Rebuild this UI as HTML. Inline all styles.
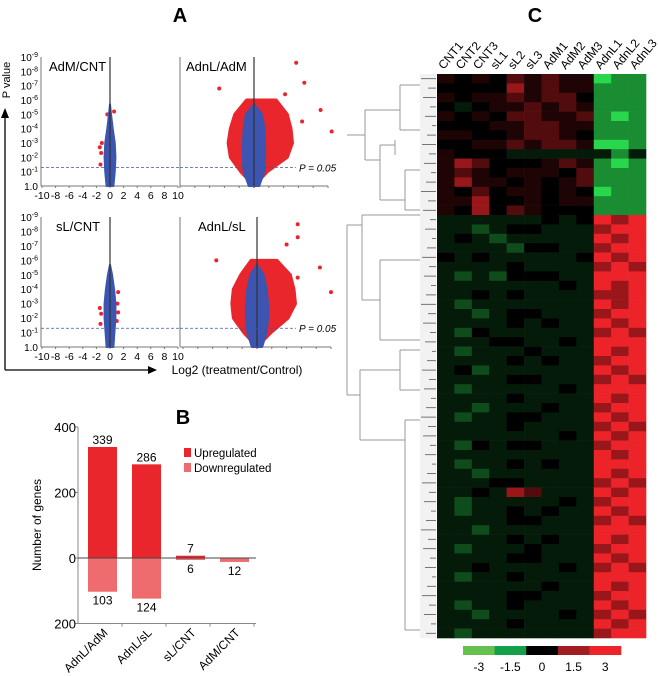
<!DOCTYPE html>
<html><head><meta charset="utf-8"><style>
html,body{margin:0;padding:0;background:#fff;}
svg{display:block;font-family:"Liberation Sans",sans-serif;}
</style></head><body>
<svg id="fig" width="658" height="676" viewBox="0 0 658 676">
<g id="A"></g>
<g id="B"></g>
<g id="C"></g>
</svg>
<script>
// ---------- Panel A data (volcano clouds) ----------
const volLevels=[0,1,2,3,4,5,6,7];
const tlBlueHalf=[0.5,0.7,0.8,0.7,0.4,0.15,0,0];
const tlRedPts=[[-1.3,2.3],[-1.5,2.7],[-1.2,3.0],[-1.4,1.5],[0.6,5.2],[-0.4,5.0]];
const trBlueHalf=[0.7,1.4,1.5,1.5,1.4,1.1,0,0];
const trRedLeft=[0,-1.8,-3.2,-3.5,-3.2,-2.6,-1.0,0];
const trRedRight=[0,1.8,4.5,5.2,5.0,4.5,3.0,0];
const trRedPts=[[5.7,8.6],[6.8,7.2],[-4.7,6.8],[9.0,5.3],[10.5,3.8],[6.5,4.5],[4.2,6.4]];
const blBlueHalf=[0.5,0.65,0.8,0.8,0.6,0.3,0,0];
const blRedPts=[[-1.5,2.7],[-1.3,2.3],[1.2,2.4],[1.1,3.0],[1.2,3.8],[-1.4,1.6],[1.0,1.8]];
const brBlueHalf=[0.7,1.3,1.5,1.5,1.3,0.9,0,0];
const brRedLeft=[0,-1.8,-3.2,-3.4,-3.2,-2.2,-0.8,0];
const brRedRight=[0,1.9,4.2,5.2,5.0,4.5,2.7,0];
const brRedPts=[[5.5,8.5],[5.5,7.6],[4.0,7.1],[-5.5,6.0],[8.5,5.5],[10.0,3.8],[5.5,4.8],[3.5,2.0]];
const yTickLabels=["1.0","10","10","10","10","10","10","10","10","10"];
const yTickExp=["","-1","-2","-3","-4","-5","-6","-7","-8","-9"];
const xTickLabels=[-10,-8,-6,-4,-2,0,2,4,6,8,10];
// ---------- Panel B data ----------
const barCats=["AdnL/AdM","AdnL/sL","sL/CNT","AdM/CNT"];
const upVals=[339,286,7,0];
const downVals=[103,124,6,12];
const upLabels=["339","286","7",""];
const downLabels=["103","124","6","12"];
const bTicks=[400,200,0,-200];
const bTickLabels=["400","200","0","200"];
// ---------- Panel C data ----------
const sampleNames=["CNT1","CNT2","CNT3","sL1","sL2","sL3","AdM1","AdM2","AdM3","AdnL1","AdnL2","AdnL3"];
const heatRows=[
"545465655011","444475655111","545565664111","434556565111","545466556101",
"444556655111","554456654111","445565665001","544433333313","576444565101",
"565455546111","575545456111","546455454011","557445455111","547465444111",
"333333434878","332344333788","343233333878","333324433788","434333334878",
"333343333787","323244433888","333333343878","334343333778","323333333878",
"332344333788","333343433878","324333333787","333443343888","323334333878",
"333343433788","342333333878","333344333787","323333343888","333343333878",
"332333433788","323344333878","333343333787","333333343878","324344333788",
"333333333878","323343433888","332333333878","333443333787","334376333878",
"323333343788","323343433878","333344333787","332333333888","333343433878",
"323334333788","333344333878","334333343787","323343333888","333333433878",
"333344333788","323343333878","332333343787","333343333878","323333333788"];
const cbarLabels=["-3","-1.5","0","1.5","3"];
const cbarColors=["#66c04e","#12a049","#000000","#a01d22","#ec2329"];

const NS="http://www.w3.org/2000/svg";
function mk(parent,tag,attrs,text){const e=document.createElementNS(NS,tag);for(const k in attrs)e.setAttribute(k,attrs[k]);if(text!==undefined)e.textContent=text;parent.appendChild(e);return e;}

// ===== Panel A =====
const A=document.getElementById('A');
let t=mk(A,'text',{x:180,y:22,'font-size':20,'font-weight':'bold','text-anchor':'middle'},'A');


function volPanel(cfg){
  const g=mk(A,'g',{});
  
  
  const sx=v=>cfg.x0+v*cfg.k, sy=v=>cfg.yb-v*(cfg.yb-cfg.yt)/9;
  let ax=mk(g,'line',{x1:cfg.ax,y1:cfg.yt,x2:cfg.ax,y2:cfg.yb,stroke:'#777','stroke-width':1});
  
  
  let bx=mk(g,'line',{x1:cfg.ax,y1:cfg.yb,x2:sx(10),y2:cfg.yb,stroke:'#777','stroke-width':1});
  
  
  if(cfg.yLabels){
    for(let i=0;i<10;i++){
      const tt=mk(g,'text',{x:cfg.ax-3,y:sy(i)+4,'font-size':10,'text-anchor':'end'});
      
      
      mk(tt,'tspan',{},yTickLabels[i]);
      if(yTickExp[i]){mk(tt,'tspan',{dy:-4,'font-size':7},yTickExp[i]);}
    }
    for(let i=0;i<xTickLabels.length;i++){
      const xt=mk(g,'text',{x:sx(xTickLabels[i]),y:cfg.yb+13,'font-size':10.5,'text-anchor':'middle'},String(xTickLabels[i]));
      
      
    }
  }
  for(let i=0;i<=10;i++){mk(g,'line',{x1:sx(-10+2*i),y1:cfg.yb,x2:sx(-10+2*i),y2:cfg.yb+2,stroke:'#777'});}
  if(cfg.redL){
    let pts=[];
    for(let i=0;i<volLevels.length;i++){if(cfg.redR[i]||i===0)pts.push(sx(cfg.redR[i])+','+sy(volLevels[i]));}
    for(let i=volLevels.length-1;i>=0;i--){if(cfg.redL[i]||i===0)pts.push(sx(cfg.redL[i])+','+sy(volLevels[i]));}
    const rp=mk(g,'polygon',{points:pts.join(' '),fill:'#e8262b',stroke:'#e8262b','stroke-width':3,'stroke-linejoin':'round'});
    
    
  }
  for(const p of cfg.redPts){
    const c=mk(g,'circle',{cx:sx(p[0]),cy:sy(p[1]),r:2,fill:'#e8262b'});
    
    
  }
  let pts=[];
  const n=cfg.blue.length;
  for(let i=0;i<n;i++){if(cfg.blue[i]>0||i===0)pts.push(sx(cfg.blue[i])+','+sy(volLevels[i]));}
  let top=0;for(let i=0;i<n;i++)if(cfg.blue[i]>0)top=i;
  pts.push(sx(0)+','+sy(top+0.7));
  for(let i=n-1;i>=0;i--){if(cfg.blue[i]>0||i===0)pts.push(sx(-cfg.blue[i])+','+sy(volLevels[i]));}
  const bp=mk(g,'polygon',{points:pts.join(' '),fill:'#3b55b0',stroke:'#3b55b0','stroke-width':2,'stroke-linejoin':'round'});
  
  
  mk(g,'line',{x1:sx(0),y1:cfg.yt,x2:sx(0),y2:cfg.yb,stroke:'#333','stroke-width':1.2});
  const dl=mk(g,'line',{x1:cfg.ax,y1:sy(1.3),x2:cfg.dashEnd,y2:sy(1.3),stroke:'#3b55b0','stroke-width':0.8,'stroke-dasharray':'3,2'});
  
  
  if(cfg.pLabel){
    const pl=mk(g,'text',{x:cfg.dashEnd+3,y:sy(1.3)+4,'font-size':10,'font-style':'italic'},'P = 0.05');
    
    
  }
  const tl=mk(g,'text',{x:cfg.titleX,y:cfg.yt+14,'font-size':13},cfg.title);
  
  
}
volPanel({name:'volcano-adm-cnt',x0:110,k:6.8,ax:41,yt:57,yb:186,blue:tlBlueHalf,redPts:tlRedPts,yLabels:true,dashEnd:180,title:'AdM/CNT',titleX:49});
volPanel({name:'volcano-adnl-adm',x0:254,k:7.4,ax:180,yt:57,yb:186,blue:trBlueHalf,redL:trRedLeft,redR:trRedRight,redPts:trRedPts,dashEnd:296,pLabel:true,title:'AdnL/AdM',titleX:186});
volPanel({name:'volcano-sl-cnt',x0:110,k:6.8,ax:41,yt:217,yb:347,blue:blBlueHalf,redPts:blRedPts,yLabels:true,dashEnd:180,title:'sL/CNT',titleX:56});
volPanel({name:'volcano-adnl-sl',x0:257,k:7.4,ax:180,yt:217,yb:347,blue:brBlueHalf,redL:brRedLeft,redR:brRedRight,redPts:brRedPts,dashEnd:296,pLabel:true,title:'AdnL/sL',titleX:198});
let ar=mk(A,'path',{d:'M5,370 L5,116 M5,370 L150,370',stroke:'#000','stroke-width':1.3,fill:'none'});


mk(A,'polygon',{points:'1,118 9,118 5,108',fill:'#000'});
mk(A,'polygon',{points:'148,366 148,374 157,370',fill:'#000'});
t=mk(A,'text',{x:10,y:80,'font-size':11,transform:'rotate(-90 10 80)','text-anchor':'middle'},'P value');


t=mk(A,'text',{x:237,y:374,'font-size':12,'text-anchor':'middle'},'Log2 (treatment/Control)');



// ===== Panel B =====
const B=document.getElementById('B');
const by=v=>558-v*0.3275;
const bx0=78, bw=44, barW=29;
t=mk(B,'text',{x:183,y:424,'font-size':20,'font-weight':'bold','text-anchor':'middle'},'B');


let yl=mk(B,'line',{x1:bx0,y1:by(400),x2:bx0,y2:by(-200),stroke:'#888'});


for(let i=0;i<bTicks.length;i++){
  mk(B,'line',{x1:bx0-3,y1:by(bTicks[i]),x2:bx0,y2:by(bTicks[i]),stroke:'#888'});
  const tt=mk(B,'text',{x:bx0-2,y:by(bTicks[i])+5,'font-size':13,'text-anchor':'end'},bTickLabels[i]);
  
  
}
t=mk(B,'text',{x:41,y:525,'font-size':12,transform:'rotate(-90 41 525)','text-anchor':'middle'},'Number of genes');


for(let i=0;i<barCats.length;i++){
  const cx=bx0+10+i*bw+barW/2;
  const xl=cx-barW/2;
  if(upVals[i]>0){
    const r=mk(B,'rect',{x:xl,y:by(upVals[i]),width:barW,height:by(0)-by(upVals[i]),fill:'#e8262b'});
    
    
  }
  const d=mk(B,'rect',{x:xl,y:by(0),width:barW,height:by(-downVals[i])-by(0),fill:'#ee6b6e'});
  
  
  if(upLabels[i]){
    const u=mk(B,'text',{x:cx,y:by(upVals[i])-3,'font-size':12,'text-anchor':'middle'},upLabels[i]);
    
    
  }
  const dl=mk(B,'text',{x:cx,y:by(-downVals[i])+13,'font-size':12,'text-anchor':'middle'},downLabels[i]);
  
  
  mk(B,'line',{x1:bx0+(i+1)*bw,y1:by(-200),x2:bx0+(i+1)*bw,y2:by(-200)+3,stroke:'#888'});
  const cl=mk(B,'text',{x:cx+6,y:by(-200)+10,'font-size':12,'text-anchor':'end',transform:`rotate(-45 ${cx+6} ${by(-200)+10})`},barCats[i]);
  
  
}
let zl=mk(B,'line',{x1:bx0,y1:by(0),x2:256,y2:by(0),stroke:'#444'});


mk(B,'line',{x1:bx0,y1:by(-200),x2:256,y2:by(-200),stroke:'#888'});
let lg=mk(B,'g',{});


mk(lg,'rect',{x:184,y:448,width:7,height:9,fill:'#e8262b'});
mk(lg,'text',{x:194,y:457,'font-size':11.5},'Upregulated');
mk(lg,'rect',{x:184,y:463,width:7,height:9,fill:'#ee6b6e'});
mk(lg,'text',{x:194,y:472,'font-size':11.5},'Downregulated');

// ===== Panel C =====
const C=document.getElementById('C');
t=mk(C,'text',{x:535,y:22,'font-size':20,'font-weight':'bold','text-anchor':'middle'},'C');


const hx0=437,hx1=646,hy0=74,hy1=638;
const cw=(hx1-hx0)/sampleNames.length, rh=(hy1-hy0)/heatRows.length;
function col(d){
  const v=(d-4)/4;
  if(v<0){const a=Math.pow(-v,1.5);return `rgb(${Math.round(40*a)},${Math.round(215*a)},${Math.round(75*a)})`;}
  const a=Math.pow(v,1.5);
  return `rgb(${Math.round(236*a)},${Math.round(35*a)},${Math.round(41*a)})`;
}
const hg=mk(C,'g',{});


for(let r=0;r<heatRows.length;r++){
  for(let c=0;c<sampleNames.length;c++){
    const cell=mk(hg,'rect',{x:hx0+c*cw,y:hy0+r*rh,width:cw+0.3,height:rh+0.3,fill:col(+heatRows[r][c])});
    
    
  }
}
for(let c=0;c<sampleNames.length;c++){
  const x=hx0+c*cw+cw/2-2, y=70;
  const sl=mk(C,'text',{x:x,y:y,'font-size':12,transform:`rotate(-50 ${x} ${y})`},sampleNames[c]);
  
  
}
const dg=mk(C,'g',{stroke:'#999','stroke-width':1,fill:'none'});


mk(dg,'rect',{x:420,y:74,width:16,height:564,fill:'#f2f2f2',stroke:'none'});
mk(dg,'path',{d:'M347,135 L365,135 M365,110 L365,160 M365,110 L400,110 M365,160 L380,160 M380,145 L380,200 M380,145 L395,145 M380,200 L405,200 M400,85 L400,130 M400,85 L420,85 M400,130 L420,130 M395,140 L395,155 M405,170 L405,210 M405,170 L420,170 M405,210 L420,210'});
mk(dg,'path',{d:'M347,225 L347,395 M347,225 L362,225 M347,395 L360,395 M362,215 L362,300 M362,215 L420,215 M362,300 L380,300 M380,260 L380,340 M380,260 L420,260 M380,340 L420,340 M360,370 L360,440 M360,370 L400,370 M360,440 L405,440 M405,420 L405,630 M405,420 L420,420 M405,630 L420,630 M400,350 L400,390 M400,350 L420,350 M400,390 L420,390'});
const dg2=mk(C,'g',{stroke:'#555','stroke-width':0.8});
for(let r=0;r<heatRows.length;r++){const y=hy0+r*rh+rh/2;mk(dg2,'line',{x1:421+(r*7)%12,y1:y,x2:436,y2:y});}
const cb=mk(C,'g',{});


const cbx0=463,cbw=(621-463)/cbarColors.length;
for(let i=0;i<cbarColors.length;i++){
  mk(cb,'rect',{x:cbx0+i*cbw,y:646,width:cbw+0.3,height:9,fill:cbarColors[i]});
  mk(cb,'text',{x:cbx0+i*cbw+cbw/2,y:671,'font-size':12,'text-anchor':'middle'},cbarLabels[i]);
}
</script>
</body></html>
